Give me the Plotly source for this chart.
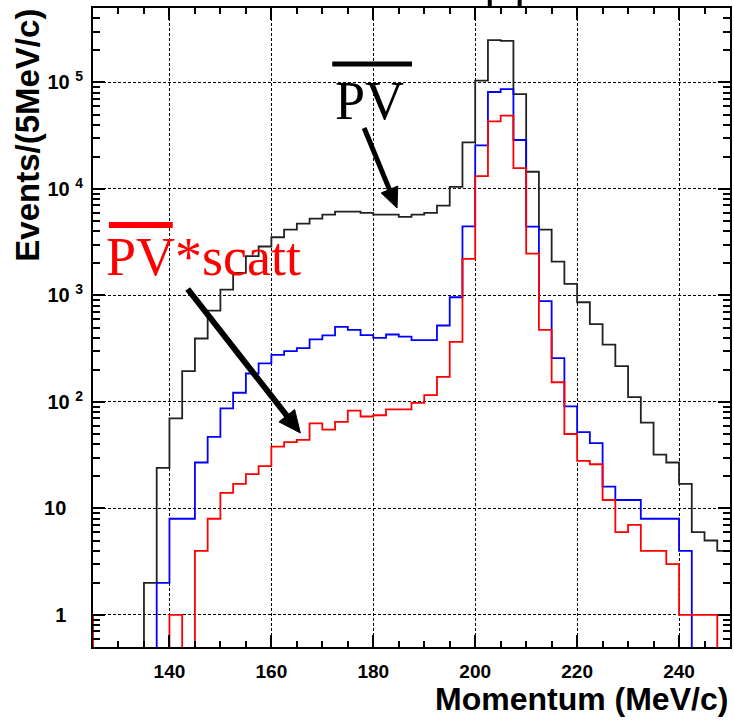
import numpy as np
import plotly.graph_objects as go

# ---- data (bin lower edges 122.5 ... 247.5, width 2.5 MeV/c) ----
bin_width = 2.5
bin_low = np.arange(122.5, 250.0, bin_width)

pv_counts = [0, 0, 0, 0, 0, 2, 24, 70, 195, 394, 720, 1135, 1630, 2335, 2880,
             3520, 4150, 4730, 5270, 5740, 6120, 6120, 5950, 5740, 5740, 5460,
             5740, 5950, 6970, 10450, 27400, 104000, 250000, 246000, 77800,
             14500, 4150, 2080, 1285, 863, 537, 346, 217, 111, 64, 32, 27, 17,
             6, 5, 4]
blue_counts = [0, 0, 0, 0, 0, 0, 2, 8, 8, 27, 47, 87, 122, 185, 230,
               277, 300, 320, 386, 421, 507, 475, 424, 400, 430, 410,
               380, 380, 522, 962, 4460, 25600, 81300, 86700, 28800,
               4430, 883, 258, 91, 52, 41, 16, 12, 12, 8, 8, 8, 4,
               0, 0, 0]
scatt_counts = [1, 0, 0, 0, 0, 0, 0, 1, 0, 4, 8, 14, 17, 21, 25,
                38, 42, 44, 63, 55, 65, 83, 73, 75, 85, 85,
                98, 116, 172, 367, 2200, 13200, 43100, 48700, 15700,
                2470, 475, 153, 50, 28, 26, 12, 6, 7, 4, 4, 3, 1,
                1, 1, 0]

x_tickvals = [140, 160, 180, 200, 220, 240]
y_tickvals = [1, 10, 100, 1000, 10000, 100000]
pad = "\u00a0\u00a0\u00a0"
y_ticktext = ["1" + pad, "10" + pad, "10 <sup>2</sup>", "10 <sup>3</sup>",
              "10 <sup>4</sup>", "10 <sup>5</sup>"]

FLOOR = 1e-3  # empty bins are drawn below the visible log range


def step_xy(counts):
    edges = list(bin_low) + [bin_low[-1] + bin_width]
    vals = [c if c > 0 else FLOOR for c in counts]
    return edges, vals + [vals[-1]]


fig = go.Figure()
for counts, color, w in [(pv_counts, "#222222", 1.8),
                         (blue_counts, "#0000ff", 1.8),
                         (scatt_counts, "#ff0000", 1.8)]:
    xs, ys = step_xy(counts)
    fig.add_trace(go.Scatter(x=xs, y=ys, mode="lines", line_shape="hv",
                             line=dict(color=color, width=w),
                             showlegend=False, hoverinfo="skip"))

L, R, T, B = 93, 2, 8, 73
W, H = 734, 720
PW, PH = W - L - R, H - T - B


def px(xp):
    return (xp - L) / PW


def py(yp):
    return (H - B - yp) / PH


tickfont = dict(family="Liberation Sans, Arial", size=20, color="black", weight="bold")
grid_kw = dict(showgrid=True, gridcolor="black", gridwidth=1, griddash="3px,2px")

fig.update_layout(
    width=W, height=H,
    margin=dict(l=L, r=R, t=T, b=B),
    paper_bgcolor="white", plot_bgcolor="white",
    xaxis=dict(range=[125, 250], tickvals=x_tickvals,
               ticks="inside", ticklen=12, tickwidth=1.5, tickcolor="black",
               minor=dict(ticks="inside", ticklen=6, tickwidth=1.5, dtick=5,
                          tick0=0, tickcolor="black", showgrid=False),
               showline=True, linewidth=2, linecolor="black", mirror="ticks",
               zeroline=False, tickfont=dict(family="Liberation Sans, Arial", size=19,
                                             color="black", weight="bold"),
               ticklabelstandoff=6, **grid_kw),
    yaxis=dict(type="log", range=[np.log10(0.5), np.log10(5e5)],
               tickvals=y_tickvals, ticktext=y_ticktext,
               ticks="inside", ticklen=12, tickwidth=1.5, tickcolor="black",
               minor=dict(ticks="inside", ticklen=7, tickwidth=1.5, dtick="D1",
                          tickcolor="black", showgrid=False),
               showline=True, linewidth=2, linecolor="black", mirror="ticks",
               zeroline=False, tickfont=tickfont, ticklabelstandoff=4, **grid_kw),
)

title_font = dict(family="Liberation Sans, Arial", size=33, color="black", weight="bold")
xtitle_font = dict(family="Liberation Sans, Arial", size=32, color="black", weight="bold")
serif = "Liberation Serif, Times New Roman"

annotations = [
    dict(text="Events/(5MeV/c)", textangle=-90, xref="paper", yref="paper",
         x=px(27), y=py(7), xanchor="center", yanchor="top",
         showarrow=False, font=title_font),
    dict(text="Momentum (MeV/c)", xref="paper", yref="paper",
         x=px(732), y=py(699), xanchor="right", yanchor="middle",
         showarrow=False, font=xtitle_font),
    dict(text="PV", xref="paper", yref="paper", x=px(370), y=py(101),
         xanchor="center", yanchor="middle", showarrow=False,
         font=dict(family=serif, size=54, color="black")),
    dict(text="PV*scatt", xref="paper", yref="paper", x=px(104), y=py(257),
         xanchor="left", yanchor="middle", showarrow=False,
         font=dict(family=serif, size=54, color="#ff0000")),
]
fig.update_layout(annotations=annotations)


def arrow_shapes(tail, tip, width, head_len, head_half):
    (x0, y0), (x1, y1) = tail, tip
    dx, dy = x1 - x0, y1 - y0
    n = (dx * dx + dy * dy) ** 0.5
    ux, uy = dx / n, dy / n
    bx, by = x1 - ux * head_len, y1 - uy * head_len
    nx, ny = -uy, ux
    pts = [(x1, y1), (bx + nx * head_half, by + ny * head_half),
           (bx - nx * head_half, by - ny * head_half)]
    path = "M " + " L ".join(f"{px(a):.5f},{py(b):.5f}" for a, b in pts) + " Z"
    return [
        dict(type="line", xref="paper", yref="paper", x0=px(x0), y0=py(y0),
             x1=px(bx + ux * 2), y1=py(by + uy * 2),
             line=dict(color="black", width=width)),
        dict(type="path", xref="paper", yref="paper", path=path,
             fillcolor="black", line=dict(color="black", width=1)),
    ]


shapes = [
    dict(type="line", xref="paper", yref="paper", x0=px(333), x1=px(413),
         y0=py(64), y1=py(64), line=dict(color="black", width=5)),
    dict(type="line", xref="paper", yref="paper", x0=px(109), x1=px(173),
         y0=py(225), y1=py(225), line=dict(color="#ff0000", width=6)),
    dict(type="rect", xref="paper", yref="paper", x0=px(489), x1=px(493),
         y0=py(7), y1=py(0), line=dict(width=0), fillcolor="black"),
    dict(type="rect", xref="paper", yref="paper", x0=px(519), x1=px(523),
         y0=py(7), y1=py(0), line=dict(width=0), fillcolor="black"),
]
shapes += arrow_shapes((365, 128), (398, 208), 5, 20, 9)
shapes += arrow_shapes((188, 289), (301, 433), 6, 22, 10)
fig.update_layout(shapes=shapes)

fig.write_html("out.html")
